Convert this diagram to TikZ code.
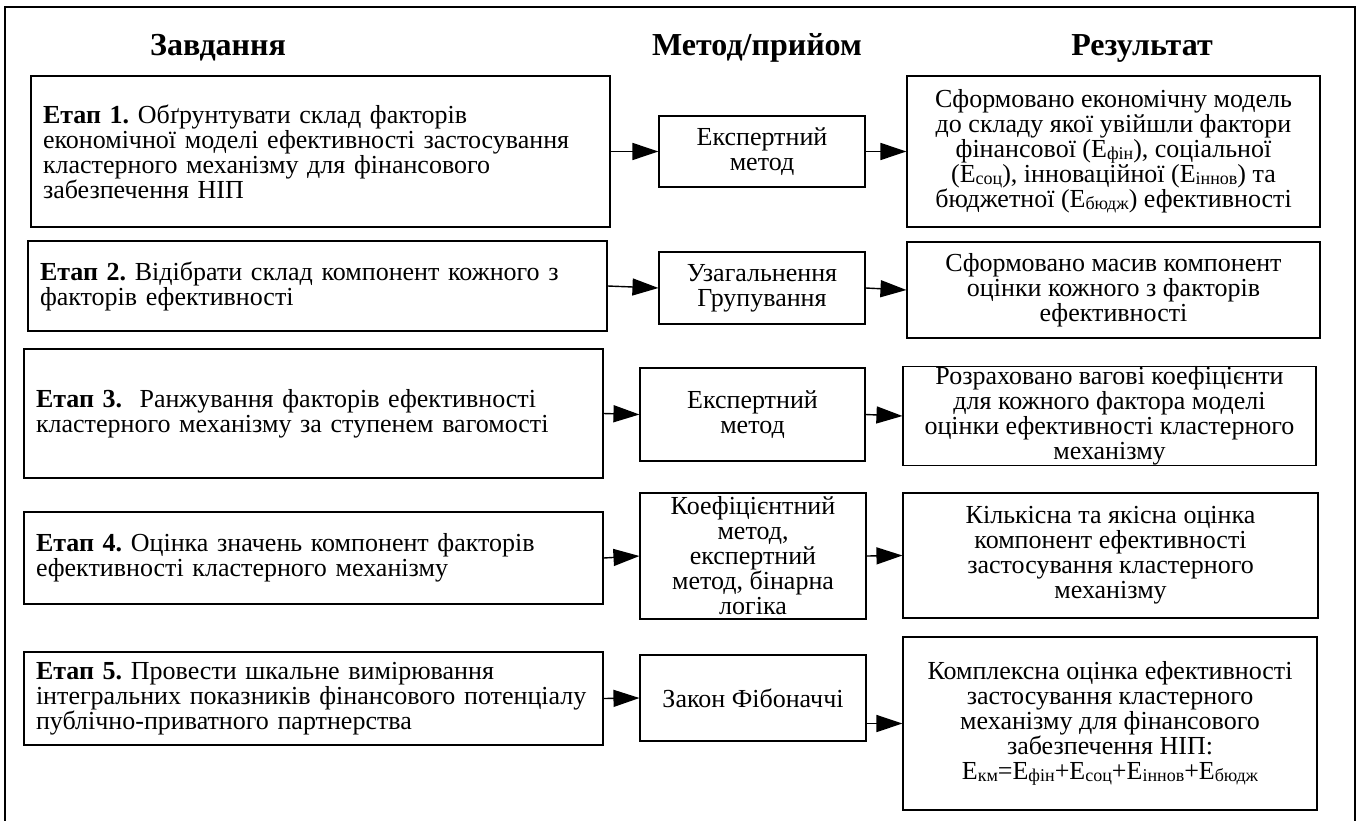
\documentclass[tikz,border=0pt]{standalone}
\usepackage{fontspec}
\setmainfont{Liberation Serif}
\usetikzlibrary{arrows.meta}
\newcommand\fsz{\fontsize{26}{25}\selectfont\frenchspacing}
\newcommand\lsub[1]{\raisebox{-1.5pt}{\fontsize{18}{18}\selectfont #1}}
\begin{document}
\begin{tikzpicture}[x=1pt,y=-1pt,
  box/.style={draw, line width=1.1pt, inner sep=0pt, font=\fsz},
  task/.style={box, align=left},
  meth/.style={box, align=center},
  res/.style={box, align=center},
  arr/.style={line width=1.4pt, -{Triangle[length=26pt,width=17pt]}},
  hdr/.style={font=\fontsize{32}{32}\selectfont\bfseries, anchor=base}
]
\useasboundingbox (0,0) rectangle (1364,821);
\draw[line width=1.1pt] (5,821) -- (5,7) -- (1355,7) -- (1355,821);

\node[hdr] (h1) at (218,56) {Завдання};
\node[hdr] (h2) at (757,56) {Метод/прийом};
\node[hdr] (h3) at (1142,56) {Результат};

% tasks
\node[task, minimum width=579, minimum height=151, text width=555] (t1) at (320.5,151.5)
 {\textbf{Етап 1.} Обґрунтувати склад факторів\\економічної моделі ефективності застосування\\кластерного механізму для фінансового\\забезпечення НІП};
\node[task, minimum width=579, minimum height=90, text width=555] (t2) at (317.5,286)
 {\textbf{Етап 2.} Відібрати склад компонент кожного з\\факторів ефективності};
\node[task, minimum width=579, minimum height=129, text width=555] (t3) at (313.5,413.5)
 {\textbf{Етап 3.}\ \ Ранжування факторів ефективності\\кластерного механізму за ступенем вагомості};
\node[task, minimum width=579, minimum height=92, text width=555] (t4) at (313.5,558)
 {\textbf{Етап 4.} Оцінка значень компонент факторів\\ефективності кластерного механізму};
\node[task, minimum width=579, minimum height=93, text width=555] (t5) at (313.5,698.5)
 {\textbf{Етап 5.} Провести шкальне вимірювання\\інтегральних показників фінансового потенціалу\\публічно-приватного партнерства};

% methods
\node[meth, minimum width=206, minimum height=71] (m1) at (762,151.5) {Експертний\\метод};
\node[meth, minimum width=206, minimum height=72] (m2) at (762,288) {Узагальнення\\Групування};
\node[meth, minimum width=225, minimum height=93] (m3) at (752.5,414.5) {Експертний\\метод};
\node[meth, minimum width=226, minimum height=126] (m4) at (753,556) {Коефіцієнтний\\метод,\\експертний\\метод, бінарна\\логіка};
\node[meth, minimum width=226, minimum height=86] (m5) at (753,698) {Закон Фібоначчі};

% results
\node[res, minimum width=413, minimum height=151] (r1) at (1113.5,151.5)
 {Сформовано економічну модель\\до складу якої увійшли фактори\\фінансової (Е\lsub{фін}), соціальної\\(Е\lsub{соц}), інноваційної (Е\lsub{іннов}) та\\бюджетної (Е\lsub{бюдж}) ефективності};
\node[res, minimum width=413, minimum height=96] (r2) at (1113.5,290)
 {Сформовано масив компонент\\оцінки кожного з факторів\\ефективності};
\node[res, minimum width=413, minimum height=96] (r3) at (1109.5,416)
 {Розраховано вагові коефіцієнти\\для кожного фактора моделі\\оцінки ефективності кластерного\\механізму};
\node[res, minimum width=415, minimum height=125] (r4) at (1110.5,555.5)
 {Кількісна та якісна оцінка\\компонент ефективності\\застосування кластерного\\механізму};
\node[res, minimum width=414, minimum height=173] (r5) at (1110,723.5)
 {Комплексна оцінка ефективності\\застосування кластерного\\механізму для фінансового\\забезпечення НІП:\\Е\lsub{км}=Е\lsub{фін}+Е\lsub{соц}+Е\lsub{іннов}+Е\lsub{бюдж}};

% arrows
\draw[arr] (t1.east) -- (m1.west);
\draw[arr] (m1.east) -- (r1.west);
\draw[arr] (t2.east) -- (m2.west);
\draw[arr] (m2.east) -- (r2.west);
\draw[arr] (t3.east) -- (m3.west);
\draw[arr] (m3.east) -- (r3.west);
\draw[arr] (t4.east) -- (m4.west);
\draw[arr] (m4.east) -- (r4.west);
\draw[arr] (t5.east) -- (m5.west);
\draw[arr] (m5.east |- r5.west) -- (r5.west);
\end{tikzpicture}
\end{document}
